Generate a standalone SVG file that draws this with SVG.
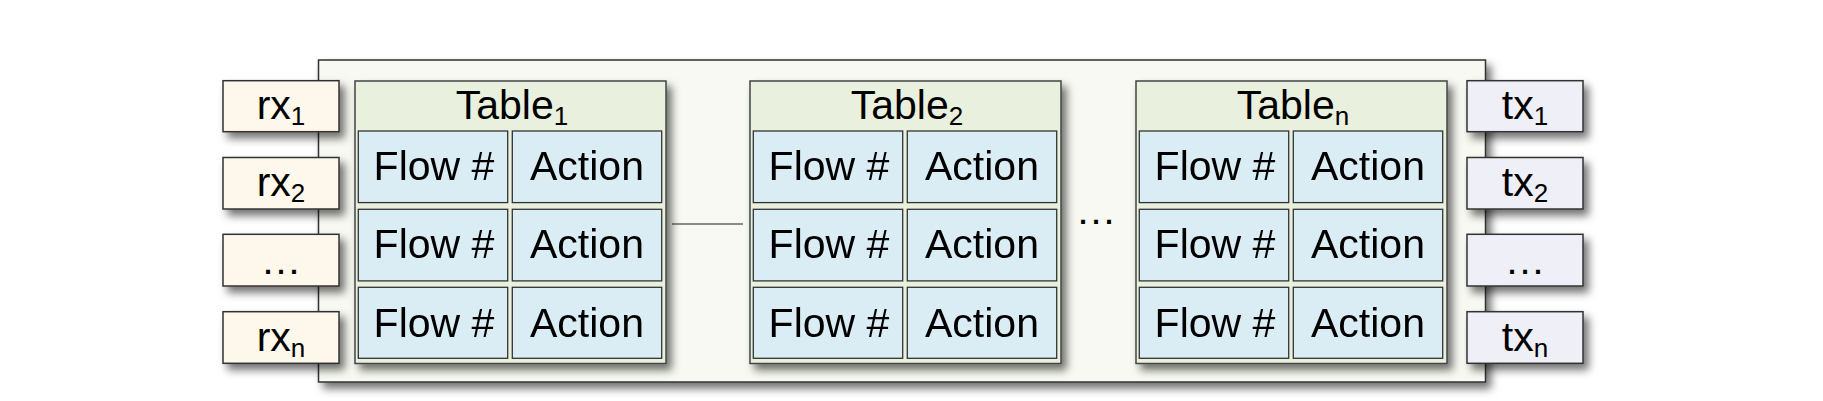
<svg xmlns="http://www.w3.org/2000/svg" width="1823" height="401" viewBox="0 0 1823 401">
<defs>
<filter id="sh" x="-10%" y="-10%" width="130%" height="140%">
<feDropShadow dx="5" dy="6" stdDeviation="4" flood-color="#000" flood-opacity="0.55"/>
</filter>
<style>
.t{font-family:"Liberation Sans",Arial,sans-serif;font-size:41px;fill:#000;text-anchor:middle}
.s{font-size:26px}
.cont{fill:#f7f9f2;stroke:#333;stroke-width:1.5}
.rx{fill:#fdf8eb;stroke:#333;stroke-width:1.5}
.tx{fill:#eff0f7;stroke:#333;stroke-width:1.5}
.tb{fill:#e9f0dd;stroke:#444;stroke-width:1.5}
.cell{fill:#daedf4;stroke:#333;stroke-width:1.3}
.ln{stroke:#666;stroke-width:1.5;fill:none}
</style>
<g id="tbl">
<rect class="tb" x="0" y="0" width="311" height="282.5"/>
<rect class="cell" x="3.3" y="50" width="149.4" height="71.6"/>
<rect class="cell" x="157.3" y="50" width="149.4" height="71.6"/>
<rect class="cell" x="3.3" y="128.3" width="149.4" height="71.6"/>
<rect class="cell" x="157.3" y="128.3" width="149.4" height="71.6"/>
<rect class="cell" x="3.3" y="206.3" width="149.4" height="71"/>
<rect class="cell" x="157.3" y="206.3" width="149.4" height="71"/>
<text class="t" x="79" y="99">Flow #</text>
<text class="t" x="232" y="99">Action</text>
<text class="t" x="79" y="177.3">Flow #</text>
<text class="t" x="232" y="177.3">Action</text>
<text class="t" x="79" y="255.6">Flow #</text>
<text class="t" x="232" y="255.6">Action</text>
</g>
</defs>
<g id="switch">
<rect class="cont" x="318.5" y="60" width="1167" height="322" filter="url(#sh)"/>
</g>
<g id="connectors">
<line class="ln" x1="672" y1="224" x2="743" y2="224"/>
</g>
<g id="rx1"><rect class="rx" x="223" y="80.7" width="116" height="51" filter="url(#sh)"/><text class="t" x="281" y="119">rx<tspan class="s" dy="6">1</tspan></text></g>
<g id="rx2"><rect class="rx" x="223" y="157.5" width="116" height="51.5" filter="url(#sh)"/><text class="t" x="281" y="196">rx<tspan class="s" dy="6">2</tspan></text></g>
<g id="rx3"><rect class="rx" x="223" y="234.3" width="116" height="51.7" filter="url(#sh)"/><text class="t" x="281" y="274">…</text></g>
<g id="rxn"><rect class="rx" x="223" y="311.7" width="116" height="51.6" filter="url(#sh)"/><text class="t" x="281" y="351">rx<tspan class="s" dy="6">n</tspan></text></g>
<g id="tx1"><rect class="tx" x="1467" y="80.7" width="116" height="51" filter="url(#sh)"/><text class="t" x="1525" y="119">tx<tspan class="s" dy="6">1</tspan></text></g>
<g id="tx2"><rect class="tx" x="1467" y="157.5" width="116" height="51.5" filter="url(#sh)"/><text class="t" x="1525" y="196">tx<tspan class="s" dy="6">2</tspan></text></g>
<g id="tx3"><rect class="tx" x="1467" y="234.3" width="116" height="51.7" filter="url(#sh)"/><text class="t" x="1525" y="274">…</text></g>
<g id="txn"><rect class="tx" x="1467" y="311.7" width="116" height="51.6" filter="url(#sh)"/><text class="t" x="1525" y="351">tx<tspan class="s" dy="6">n</tspan></text></g>
<g id="table1"><use href="#tbl" x="355" y="81" filter="url(#sh)"/><text class="t" x="512" y="119">Table<tspan class="s" dy="6">1</tspan></text></g>
<g id="table2"><use href="#tbl" x="750" y="81" filter="url(#sh)"/><text class="t" x="907" y="119">Table<tspan class="s" dy="6">2</tspan></text></g>
<g id="dots"><text class="t" x="1096" y="224">…</text></g>
<g id="tablen"><use href="#tbl" x="1136" y="81" filter="url(#sh)"/><text class="t" x="1293" y="119">Table<tspan class="s" dy="6">n</tspan></text></g>
</svg>
